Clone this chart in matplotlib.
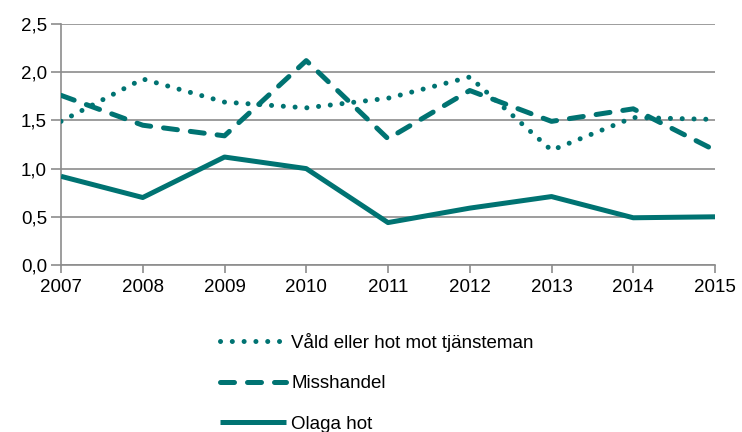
"""line chart: Våld/Misshandel/Olaga hot 2007-2015"""

import numpy as np
import matplotlib.pyplot as plt

plt.rcParams['font.family'] = ['Liberation Sans', 'DejaVu Sans']

#%% data
years = [2007, 2008, 2009, 2010, 2011, 2012, 2013, 2014, 2015]
vald = [1.49, 1.93, 1.69, 1.63, 1.73, 1.95, 1.19, 1.53, 1.51]
misshandel = [1.76, 1.45, 1.34, 2.12, 1.31, 1.81, 1.49, 1.62, 1.19]
olaga_hot = [0.92, 0.70, 1.12, 1.00, 0.44, 0.59, 0.71, 0.49, 0.50]
labels = ['Våld eller hot mot tjänsteman', 'Misshandel', 'Olaga hot']
yticks = [0.0, 0.5, 1.0, 1.5, 2.0, 2.5]

teal = '#007372'
grid_col = '#8c8c8c'
fs = 13.5

#%% plot
fig = plt.figure(figsize=(7.42, 4.32), dpi=100)
ax = fig.add_axes([61/742, 1-265/432, 654/742, 241/432])

lw = 3.6
ax.plot(years, vald, color=teal, lw=lw, linestyle=(0, (0.01, 2.35)),
        dash_capstyle='round', label=labels[0], zorder=3)
ax.plot(years, misshandel, color=teal, lw=lw, linestyle=(0, (2.8, 2.6)),
        dash_capstyle='round', label=labels[1], zorder=3)
ax.plot(years, olaga_hot, color=teal, lw=lw, linestyle='-',
        solid_capstyle='butt', label=labels[2], zorder=3)

ax.set_xlim(years[0], years[-1])
ax.set_ylim(0, 2.5)
ax.set_xticks(years)
ax.set_yticks(yticks)
ax.set_yticklabels(['{:.1f}'.format(v).replace('.', ',') for v in yticks])
ax.yaxis.grid(True, color=grid_col, lw=1.2)
ax.set_axisbelow(True)
for s in ['top', 'right']:
    ax.spines[s].set_visible(False)
for s in ['left', 'bottom']:
    ax.spines[s].set_color(grid_col)
    ax.spines[s].set_linewidth(1.2)
ax.tick_params(axis='y', length=7, width=1.2, color=grid_col, labelsize=fs, pad=3)
ax.tick_params(axis='x', length=6, width=1.2, color=grid_col, labelsize=fs, pad=4)

fig.legend(loc='upper left', bbox_to_anchor=(203/742, 1-316/432), frameon=False,
           fontsize=fs, handlelength=3.5, labelspacing=1.25, handletextpad=0.3)

plt.savefig('out.png', dpi=100)
